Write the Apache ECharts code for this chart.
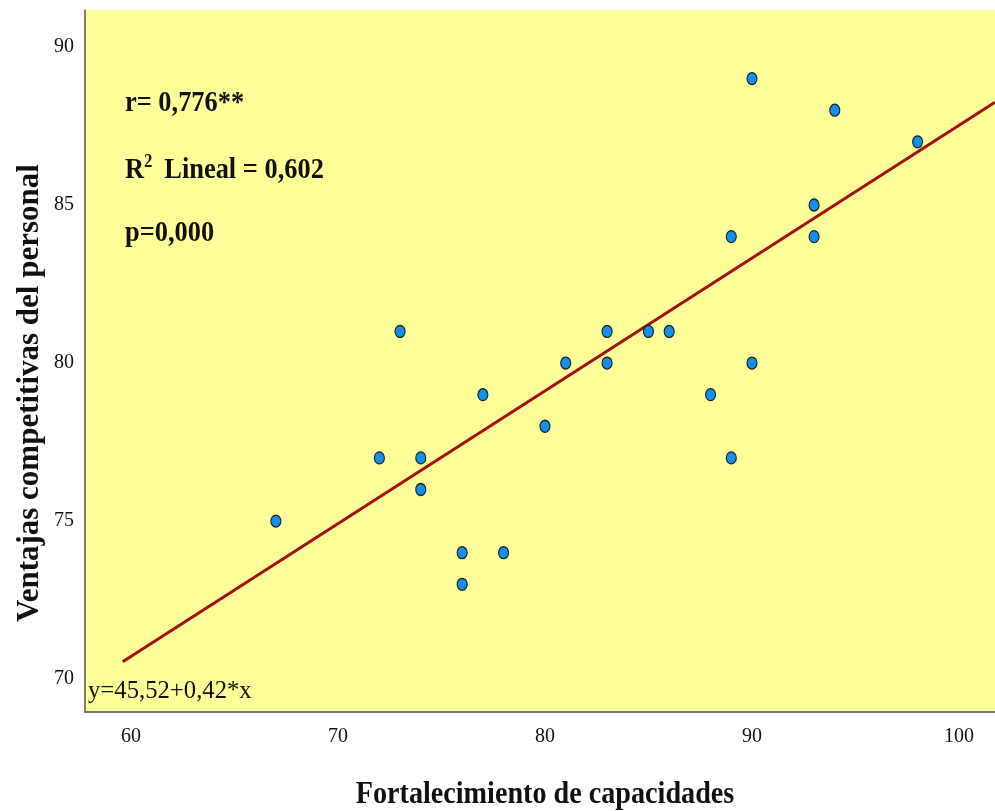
<!DOCTYPE html>
<html>
<head>
<meta charset="utf-8">
<script src="https://cdn.jsdelivr.net/npm/echarts@6/dist/echarts.min.js"></script>
<style>
  html, body { margin: 0; padding: 0; background: #fff; }
  #main { width: 995px; height: 811px; }
</style>
</head>
<body>
<div id="main"></div>
<script>
// puntos: fortalecimiento de capacidades (x) vs ventajas competitivas (y)
var capacidades = [67, 72, 73, 74, 74, 76, 76, 77, 78, 80, 81, 83, 83, 85, 86, 88, 89, 89, 90, 90, 93, 93, 94, 98];
var ventajas    = [75, 77, 81, 77, 76, 74, 73, 79, 74, 78, 80, 81, 80, 81, 81, 79, 84, 77, 89, 80, 85, 84, 88, 87];
var xTicks = [60, 70, 80, 90, 100];
var yTicks = [70, 75, 80, 85, 90];
// recta de ajuste y = a + b*x
var intercepto = 45.52;
var pendiente = 0.42;
var xMin = 57.78, xMax = 101.74;
var yMin = 68.96, yMax = 91.17;

var puntos = capacidades.map(function (x, i) { return [x, ventajas[i]]; });
var recta = [59.6, xMax].map(function (x) { return [x, intercepto + pendiente * x]; });

var chart = echarts.init(document.getElementById('main'));
var serif = '"Liberation Serif", "DejaVu Serif", serif';

chart.setOption({
  animation: false,
  grid: {
    left: 85, right: 0, top: 10, bottom: 99,
    outerBoundsMode: 'none',
    show: true, backgroundColor: '#ffff99', borderWidth: 0
  },
  xAxis: {
    type: 'value', min: xMin, max: xMax,
    axisLine: { show: true, lineStyle: { color: '#777', width: 2 } },
    axisTick: { show: false },
    splitLine: { show: false },
    axisLabel: { customValues: xTicks, fontFamily: serif, fontSize: 20, color: '#111', margin: 15 }
  },
  yAxis: {
    type: 'value', min: yMin, max: yMax,
    axisLine: { show: true, lineStyle: { color: '#555', width: 1.5 } },
    axisTick: { show: false },
    splitLine: { show: false },
    axisLabel: { customValues: yTicks, fontFamily: serif, fontSize: 20, color: '#111', margin: 11 }
  },
  series: [
    {
      type: 'line', data: recta, symbol: 'none',
      lineStyle: { color: '#a50f0f', width: 3 }, z: 2
    },
    {
      type: 'scatter', data: puntos, symbol: 'circle', symbolSize: [10, 12],
      itemStyle: { color: '#1590e8', borderColor: '#10202e', borderWidth: 1.2, opacity: 1 }, z: 3
    }
  ],
  graphic: [
    // títulos de ejes
    { type: 'text', x: 545, y: 795, scaleX: 0.88, z: 10,
      style: { text: 'Fortalecimiento de capacidades', font: 'bold 32px ' + serif, fill: '#111',
        align: 'center', verticalAlign: 'middle' } },
    { type: 'text', x: 30, y: 393, rotation: Math.PI / 2, z: 10,
      style: { text: 'Ventajas competitivas del personal', font: 'bold 31px ' + serif, fill: '#111',
        align: 'center', verticalAlign: 'middle' } },
    // estadísticos
    { type: 'text', x: 125, y: 103, scaleX: 0.88, z: 10,
      style: { text: 'r= 0,776**', font: 'bold 30px ' + serif, fill: '#111', verticalAlign: 'middle' } },
    { type: 'text', x: 125, y: 170, scaleX: 0.88, z: 10,
      style: { text: 'R{sup|2} Lineal = 0,602', font: 'bold 30px ' + serif, fill: '#111', verticalAlign: 'middle',
        rich: { sup: { fontFamily: serif, fontWeight: 'bold', fontSize: 19, padding: [0, 6, 16, 0] } } } },
    { type: 'text', x: 125, y: 233, scaleX: 0.88, z: 10,
      style: { text: 'p=0,000', font: 'bold 30px ' + serif, fill: '#111', verticalAlign: 'middle' } },
    { type: 'text', x: 88, y: 691, scaleX: 0.95, z: 10,
      style: { text: 'y=45,52+0,42*x', font: '26px ' + serif, fill: '#111', verticalAlign: 'middle' } }
  ]
});
</script>
</body>
</html>
